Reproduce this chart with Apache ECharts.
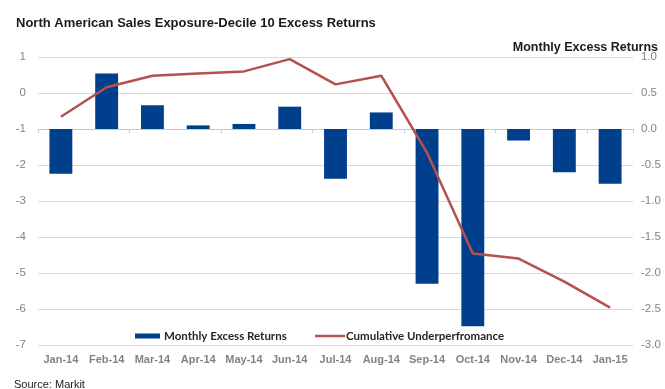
<!DOCTYPE html>
<html>
<head>
<meta charset="utf-8">
<script src="https://cdn.jsdelivr.net/npm/echarts@6/dist/echarts.min.js"></script>
<style>
  html, body { margin: 0; padding: 0; background: #ffffff; }
  #chart { width: 665px; height: 389px; }
</style>
</head>
<body>
<div id="chart"></div>
<script>
// Months on the category axis
const months = ['Jan-14', 'Feb-14', 'Mar-14', 'Apr-14', 'May-14', 'Jun-14', 'Jul-14',
                'Aug-14', 'Sep-14', 'Oct-14', 'Nov-14', 'Dec-14', 'Jan-15'];

// Monthly excess returns (right axis, %)
const monthlyExcess = [-0.62, 0.77, 0.33, 0.05, 0.07, 0.31, -0.69,
                       0.23, -2.15, -2.74, -0.16, -0.60, -0.76];

// Cumulative underperformance (right axis, %)
const cumulative = [0.17, 0.58, 0.74, 0.77, 0.80, 0.97, 0.62,
                    0.74, -0.33, -1.73, -1.80, -2.12, -2.48];

// Axis ticks
const leftTicks = { min: -7, max: 1, interval: 1 };
const rightTicks = { min: -3, max: 1, interval: 0.5 };

const axisGrey = '#7f848c';
const gridGrey = '#d9d9d9';
const barBlue = '#003f8c';
const lineRed = '#b5504e';
const legendFont = 'Lato, "Open Sans", sans-serif';

const chart = echarts.init(document.getElementById('chart'), null, { renderer: 'canvas' });

chart.setOption({
  animation: false,
  backgroundColor: '#ffffff',
  title: [
    {
      text: 'North American Sales Exposure-Decile 10 Excess Returns',
      left: 11, top: 12,
      textStyle: { fontFamily: '"Liberation Sans", Arial, sans-serif', fontSize: 13, fontWeight: 'bold', color: '#1a1a1a' }
    },
    {
      text: 'Monthly Excess Returns',
      right: 2, top: 36,
      textStyle: { fontFamily: '"Liberation Sans", Arial, sans-serif', fontSize: 12.5, fontWeight: 'bold', color: '#1a1a1a' }
    },
    {
      text: 'Source: Markit',
      left: 9, top: 374,
      textStyle: { fontFamily: '"Liberation Sans", Arial, sans-serif', fontSize: 11, fontWeight: 'normal', color: '#222222' }
    }
  ],
  legend: [
    {
      left: 130, top: 325,
      itemWidth: 25, itemHeight: 5, itemGap: 0,
      data: [{ name: 'Monthly Excess Returns', icon: 'rect' }],
      textStyle: { fontFamily: legendFont, fontSize: 11.5, fontWeight: 'bold', color: '#262626', padding: [0, 0, 0, -1] }
    },
    {
      left: 310, top: 325,
      itemWidth: 30, itemHeight: 2.5, itemGap: 0,
      data: [{ name: 'Cumulative Underperfromance', icon: 'rect', itemStyle: { color: lineRed } }],
      textStyle: { fontFamily: legendFont, fontSize: 11.5, fontWeight: 'bold', color: '#262626', padding: [0, 0, 0, -4] }
    }
  ],
  grid: { left: 38, right: 32, top: 57, bottom: 44 },
  xAxis: [
    {
      type: 'category',
      data: months,
      position: 'bottom',
      axisLine: { show: false },
      axisTick: { show: false },
      axisLabel: {
        interval: 0,
        margin: 9,
        fontFamily: '"Liberation Sans", Arial, sans-serif',
        fontSize: 11, fontWeight: 'bold', color: axisGrey
      }
    },
    {
      type: 'category',
      data: months,
      position: 'top',
      axisLine: { show: true, onZero: true, onZeroAxisIndex: 1, lineStyle: { color: '#c8c8c8', width: 1 } },
      axisTick: { show: true, inside: true, length: 4, lineStyle: { color: '#c8c8c8' } },
      axisLabel: { show: false }
    }
  ],
  yAxis: [
    {
      type: 'value',
      min: leftTicks.min, max: leftTicks.max, interval: leftTicks.interval,
      position: 'left',
      axisLine: { show: false },
      axisTick: { show: false },
      splitLine: { show: true, lineStyle: { color: gridGrey, width: 1 } },
      axisLabel: {
        margin: 12,
        fontFamily: '"Liberation Sans", Arial, sans-serif',
        fontSize: 11.5, color: axisGrey
      }
    },
    {
      type: 'value',
      min: rightTicks.min, max: rightTicks.max, interval: rightTicks.interval,
      position: 'right',
      axisLine: { show: false },
      axisTick: { show: false },
      splitLine: { show: false },
      axisLabel: {
        margin: 8,
        fontFamily: '"Liberation Sans", Arial, sans-serif',
        fontSize: 11.5, color: axisGrey,
        formatter: v => v.toFixed(1)
      }
    }
  ],
  series: [
    {
      name: 'Monthly Excess Returns',
      type: 'bar',
      xAxisIndex: 0,
      yAxisIndex: 1,
      data: monthlyExcess,
      barWidth: '50%',
      itemStyle: { color: barBlue }
    },
    {
      name: 'Cumulative Underperfromance',
      type: 'line',
      xAxisIndex: 0,
      yAxisIndex: 1,
      data: cumulative,
      symbol: 'none',
      lineStyle: { color: lineRed, width: 2.5 },
      itemStyle: { color: lineRed },
      z: 3
    }
  ]
});
</script>
</body>
</html>
